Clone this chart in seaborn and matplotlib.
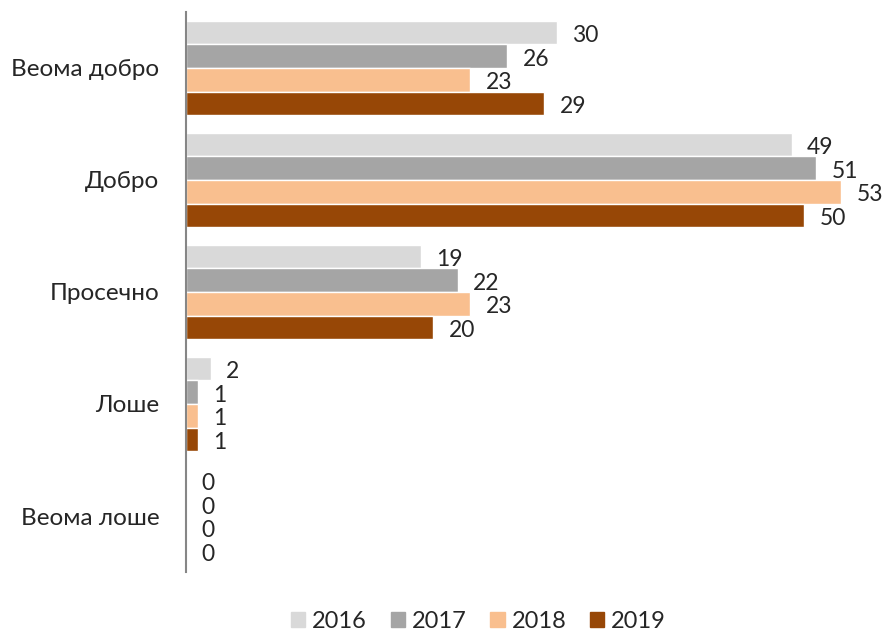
import seaborn as sns
import matplotlib.pyplot as plt
import pandas as pd

# ratings by year
categories = ['Веома добро', 'Добро', 'Просечно', 'Лоше', 'Веома лоше']
years = ['2016', '2017', '2018', '2019']
v2016 = [30, 49, 19, 2, 0]
v2017 = [26, 51, 22, 1, 0]
v2018 = [23, 53, 23, 1, 0]
v2019 = [29, 50, 20, 1, 0]
colors = ['#d9d9d9', '#a5a5a5', '#f9bf8f', '#974706']

rows = []
for yr, vals in zip(years, [v2016, v2017, v2018, v2019]):
    for c, v in zip(categories, vals):
        rows.append({'cat': c, 'year': yr, 'val': v})
df = pd.DataFrame(rows)

sns.set_style('white')
plt.rcParams['font.family'] = ['Lato', 'DejaVu Sans']

fig = plt.figure(figsize=(8.83, 6.31), dpi=100)
ax = fig.add_axes([0.2106, 0.0935, 0.77, 0.8875])

sns.barplot(data=df, y='cat', x='val', hue='year', orient='h',
            palette=colors, saturation=1, width=0.84, ax=ax, legend=False)

for cont in ax.containers:
    anns = ax.bar_label(cont, padding=11, fontsize=16.5, color='#262626')
    for a in anns:
        a.xyann = (11, -2)  # nudge labels down a bit

ax.set_xlim(0, 55)
ax.set_xlabel('')
ax.set_ylabel('')
ax.set_xticks([])
ax.tick_params(axis='y', length=0, pad=19, labelsize=17.5, labelcolor='#262626')
for s in ['top', 'right', 'bottom']:
    ax.spines[s].set_visible(False)
ax.spines['left'].set_color('#868686')
ax.spines['left'].set_linewidth(1.5)

handles = [plt.Rectangle((0, 0), 1, 1, color=c) for c in colors]
fig.legend(handles, years, loc='lower center', bbox_to_anchor=(0.542, -0.035),
           ncol=4, frameon=False, fontsize=17, handlelength=0.6, handleheight=0.6,
           handletextpad=0.3, columnspacing=1.0, labelcolor='#262626')

fig.savefig('out.png', dpi=100)
